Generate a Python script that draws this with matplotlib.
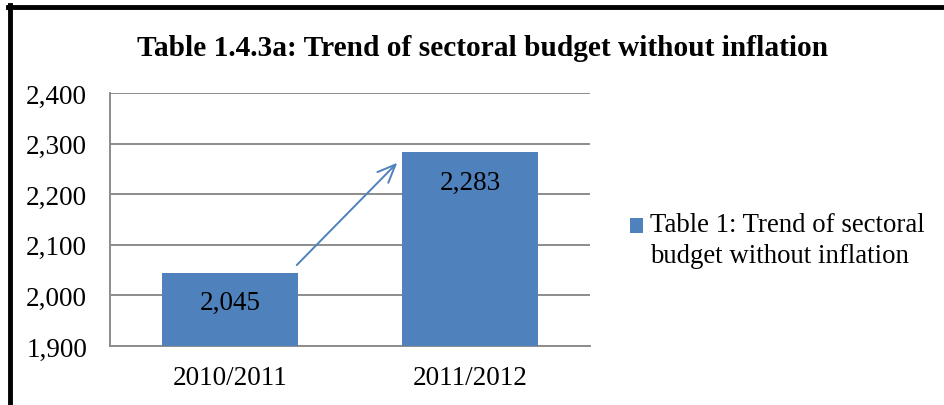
import matplotlib.pyplot as plt
from matplotlib.lines import Line2D
from matplotlib.patches import Rectangle
from matplotlib.container import BarContainer
from matplotlib.legend_handler import HandlerPatch
from matplotlib.ticker import FuncFormatter

years = ["2010/2011", "2011/2012"]
budget = [2045, 2283]
series_name = "Table 1: Trend of sectoral budget without inflation"
legend_label = "Table 1: Trend of sectoral\nbudget without inflation"
title = "Table 1.4.3a: Trend of sectoral budget without inflation"

BLUE = "#4F81BD"
GRID = "#8C8C8C"


def first_line_box(legend, orig_handle, xdescent, ydescent, width, height, fontsize):
    # legend swatch lined up with the first text line instead of the middle
    return Rectangle((-xdescent, -ydescent + 0.52 * fontsize), width, height)


def copy_bar_style(legend_patch, bars):
    legend_patch.update_from(bars.patches[0])


def main():
    plt.rcParams['font.family'] = ['Liberation Serif', 'DejaVu Serif']
    fig = plt.figure(figsize=(9.44, 4.06), dpi=100)
    ax = fig.add_axes([0.1165, 0.1453, 0.5085, 0.6232])

    x = list(range(len(years)))
    bars = ax.bar(x, budget, width=0.57, color=BLUE, zorder=3, label=legend_label)

    ax.set_xlim(-0.5, 1.5)
    ax.set_ylim(1900, 2400)
    ax.set_yticks(range(1900, 2401, 100))
    ax.yaxis.set_major_formatter(FuncFormatter(lambda v, _: f"{int(v):,}"))
    ax.set_xticks(x)
    ax.set_xticklabels(years)
    ax.tick_params(axis='both', length=0, labelsize=19.5, colors='black')
    ax.tick_params(axis='y', pad=16.5)
    ax.tick_params(axis='x', pad=13.5)
    ax.grid(axis='y', color=GRID, linewidth=1.4, zorder=0)

    for side in ['top', 'right']:
        ax.spines[side].set_visible(False)
    for side in ['left', 'bottom']:
        ax.spines[side].set_color(GRID)
        ax.spines[side].set_linewidth(1.4)

    # value labels just inside the top of each bar
    for b, v in zip(bars, budget):
        ax.annotate(f"{v:,}", (b.get_x() + b.get_width() / 2, v),
                    xytext=(0, -21.5), textcoords='offset points',
                    ha='center', va='center', fontsize=19.5, zorder=4)

    # growth arrow between the two bars
    ax.annotate("", xy=(0.705, 2266), xytext=(0.27, 2056),
                arrowprops=dict(arrowstyle='->,head_length=1.3,head_width=0.55',
                                color=BLUE, lw=1.4), zorder=5)

    fig.suptitle(title, fontsize=21.2, fontweight='bold', x=0.511, y=0.915)

    handler = HandlerPatch(patch_func=first_line_box, update_func=copy_bar_style)
    leg = ax.legend(loc='center left', bbox_to_anchor=(1.033, 0.42), frameon=False,
                    fontsize=19.3, handlelength=0.5, handleheight=0.5,
                    handletextpad=0.25, labelspacing=0.2,
                    handler_map={BarContainer: handler})
    for t in leg.get_texts():
        t.set_linespacing(1.3)

    # black frame along the top and left edges
    fig.add_artist(Line2D([0.0085, 1.0], [0.981, 0.981], color='black', lw=3.5,
                          transform=fig.transFigure))
    fig.add_artist(Line2D([0.0106, 0.0106], [0.0, 0.985], color='black', lw=3.5,
                          transform=fig.transFigure))

    fig.savefig('out.png', dpi=100)


if __name__ == "__main__":
    main()
